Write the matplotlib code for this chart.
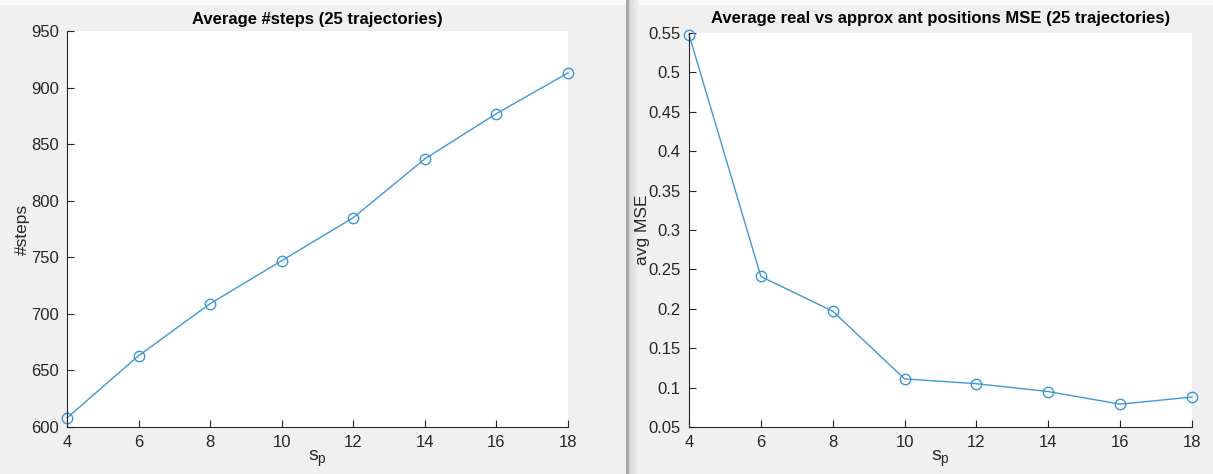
import matplotlib
matplotlib.use("Agg")
import matplotlib.pyplot as plt
import numpy as np
from matplotlib.patches import Rectangle

plt.rcParams['font.family'] = ['Liberation Sans', 'DejaVu Sans']
plt.rcParams['mathtext.fontset'] = 'custom'
plt.rcParams['mathtext.rm'] = 'Liberation Sans'

sp = [4, 6, 8, 10, 12, 14, 16, 18]
avg_steps = [608, 663, 709, 747, 785, 837, 877, 913]
avg_mse = [0.548, 0.241, 0.197, 0.111, 0.105, 0.095, 0.079, 0.088]

left_yticks = [600, 650, 700, 750, 800, 850, 900, 950]
right_yticks = [0.05, 0.1, 0.15, 0.2, 0.25, 0.3, 0.35, 0.4, 0.45, 0.5, 0.55]
right_yticklabels = ['0.05', '0.1', '0.15', '0.2', '0.25', '0.3', '0.35', '0.4', '0.45', '0.5', '0.55']

W, H = 1213, 474
fig = plt.figure(figsize=(W / 100, H / 100), dpi=100, facecolor='#f0f0f0')

# divider between the two figure windows
fig.patches.append(Rectangle((0, 1 - 5 / H), 1, 5 / H, transform=fig.transFigure,
                             facecolor='#fafafa', edgecolor='none', zorder=-5))
grad = np.linspace(0, 1, 10)
for i, g in enumerate(grad):
    c = 0.85 + (0.941 - 0.85) * g
    fig.patches.append(Rectangle(((629 + i) / W, 0), 1 / W, 1, transform=fig.transFigure,
                                 facecolor=(c, c, c), edgecolor='none', zorder=-5))
fig.patches.append(Rectangle((626 / W, 0), 3 / W, 1, transform=fig.transFigure,
                             facecolor='#a8a8a8', edgecolor='none', zorder=-5))

line_color = '#3f98d6'
tick_color = '#262626'
txt_color = '#262626'


def style(ax):
    for s in ['top', 'right']:
        ax.spines[s].set_visible(False)
    for s in ['left', 'bottom']:
        ax.spines[s].set_color('#262626')
        ax.spines[s].set_linewidth(0.8)
    ax.tick_params(direction='in', length=5, width=0.8, colors=tick_color,
                   labelsize=12, labelcolor=txt_color, pad=6)
    ax.set_facecolor('white')


ax1 = fig.add_axes([67 / W, 47 / H, 501 / W, 396 / H])
ax1.plot(sp, avg_steps, '-o', color=line_color, lw=1.0, ms=7.5, mfc='none', mew=1.0, clip_on=False)
ax1.set_xlim(4, 18)
ax1.set_ylim(600, 950)
ax1.set_xticks(sp)
ax1.set_yticks(left_yticks)
style(ax1)
ax1.set_title('Average #steps (25 trajectories)', fontsize=12, fontweight='bold', color='black', pad=5)
ax1.set_xlabel(r'$\mathregular{s_p}$', fontsize=14, color=txt_color)
ax1.xaxis.set_label_coords(0.5, -0.055, transform=ax1.transAxes)
ax1.xaxis.label.set_va('top')
ax1.set_ylabel('#steps', fontsize=12.5, color=txt_color, va='center')
ax1.yaxis.set_label_coords((22 - 67) / 501, 0.5)

ax2 = fig.add_axes([689 / W, 47 / H, 503 / W, 394 / H])
ax2.plot(sp, avg_mse, '-o', color=line_color, lw=1.0, ms=7.5, mfc='none', mew=1.0, clip_on=False)
ax2.set_xlim(4, 18)
ax2.set_ylim(0.05, 0.55)
ax2.set_xticks(sp)
ax2.set_yticks(right_yticks)
ax2.set_yticklabels(right_yticklabels)
style(ax2)
ax2.set_title('Average real vs approx ant positions MSE (25 trajectories)', fontsize=12,
              fontweight='bold', color='black', pad=7)
ax2.set_xlabel(r'$\mathregular{s_p}$', fontsize=14, color=txt_color)
ax2.xaxis.set_label_coords(0.5, -0.055, transform=ax2.transAxes)
ax2.xaxis.label.set_va('top')
ax2.set_ylabel('avg MSE', fontsize=12.5, color=txt_color, va='center')
ax2.yaxis.set_label_coords((643 - 689) / 503, 0.5)

fig.savefig('out.png', dpi=100, facecolor=fig.get_facecolor())
